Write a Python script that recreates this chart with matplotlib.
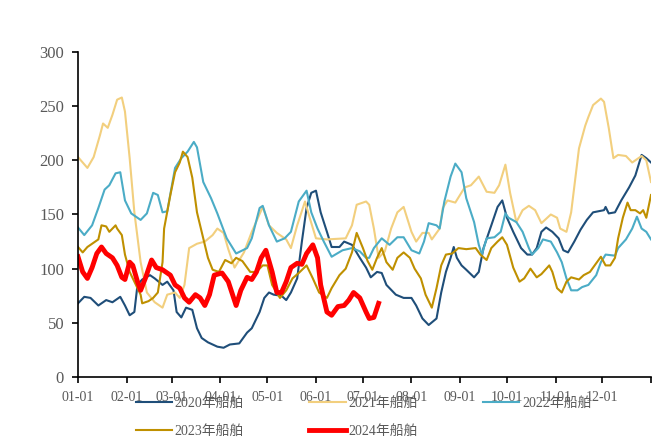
import numpy as np
import matplotlib.pyplot as plt

plt.rcParams['font.family'] = ['Liberation Serif', 'Noto Sans CJK SC']

# day of year -> value
d2020 = [0, 4, 8, 13, 18, 22, 27, 30, 33, 36, 38, 41, 46, 49, 54, 57, 61, 63, 66, 69, 73, 76, 79, 83, 89, 93,
         97, 103, 108, 111, 116, 119, 122, 125, 130, 133, 136, 140, 143, 146, 149, 152, 155, 159, 162, 167, 170,
         175, 180, 184, 187, 191, 194, 197, 203, 208, 213, 216, 220, 224, 229, 232, 235, 238, 240, 242, 245, 248,
         253, 256, 259, 264, 268, 271, 274, 278, 283, 287, 290, 293, 296, 299, 303, 307, 310, 313, 317, 321, 325,
         329, 336, 337, 339, 343, 347, 352, 356, 360, 363, 366]
v2020 = [68, 74, 73, 66, 71, 69, 74, 66, 57, 60, 85, 90, 94, 91, 85, 88, 80, 60, 55, 64, 62, 45, 36, 32, 28, 27,
         30, 31, 41, 45, 60, 73, 78, 76, 75, 71, 78, 91, 125, 156, 170, 172, 152, 134, 120, 120, 125,
         122, 110, 101, 92, 97, 96, 85, 76, 73, 73, 66, 54, 48, 54, 78, 97, 110, 120, 110, 103, 99,
         92, 97, 119, 140, 157, 163, 147, 134, 119, 113, 113, 119, 134, 138, 134, 128, 117, 115, 125, 136, 145,
         152, 154, 157, 151, 152, 163, 175, 186, 205, 202, 198]

d2021 = [0, 6, 10, 14, 16, 19, 22, 25, 28, 30, 33, 36, 40, 44, 49, 54, 57, 62, 65, 68, 71, 76, 81, 86, 89, 93,
         96, 100, 106, 111, 118, 122, 127, 133, 136, 140, 145, 148, 152, 159, 171, 175, 178, 184, 186, 189, 192,
         196, 200, 204, 208, 213, 216, 220, 224, 226, 231, 233, 236, 241, 247, 251, 256, 261, 266, 269, 273, 276,
         280, 284, 288, 292, 296, 302, 306, 308, 312, 315, 320, 324, 326, 329, 334, 336, 339, 342, 345, 350, 354,
         360, 363, 366]
v2021 = [203, 193, 203, 223, 234, 230, 242, 256, 258, 245, 202, 152, 106, 78, 69, 64, 76, 78, 73, 85, 119, 123,
         125, 131, 137, 133, 118, 101, 115, 134, 157, 140, 133, 127, 119, 140, 162, 147, 128, 127, 128, 140, 159,
         162, 159, 137, 110, 116, 137, 152, 157, 134, 125, 133, 133, 127, 137, 156, 163, 161, 175, 177, 185, 171,
         170, 177, 196, 170, 143, 154, 158, 154, 142, 150, 147, 137, 134, 152, 211, 232, 240, 251, 257, 254, 230,
         202, 205, 204, 198, 204, 200, 180]

d2022 = [0, 4, 9, 13, 17, 20, 24, 27, 30, 34, 40, 44, 48, 51, 54, 57, 62, 66, 70, 74, 76, 80, 85, 89, 95, 101,
         108, 111, 116, 118, 122, 127, 132, 136, 141, 146, 149, 153, 157, 162, 169, 175, 180, 184, 186, 189, 194,
         199, 204, 208, 213, 218, 221, 224, 229, 231, 234, 238, 241, 245, 248, 253, 256, 258, 261, 266, 270, 273,
         275, 280, 284, 288, 290, 294, 297, 302, 306, 309, 312, 315, 319, 322, 326, 331, 334, 337, 343, 345, 350,
         354, 357, 360, 363, 366]
v2022 = [138, 131, 140, 156, 173, 177, 188, 189, 163, 151, 145, 151, 170, 168, 152, 153, 193, 202, 208, 217, 212,
         180, 165, 151, 128, 114, 119, 128, 156, 158, 140, 125, 128, 134, 162, 172, 152, 137, 125, 111, 117, 119,
         116, 110, 110, 119, 128, 122, 129, 129, 117, 114, 125, 142, 140, 137, 162, 185, 197, 189, 165, 143, 122,
         113, 128, 129, 134, 151, 147, 143, 134, 119, 113, 119, 127, 125, 115, 106, 91, 80, 80, 83, 85, 94, 106,
         113, 112, 119, 127, 137, 148, 137, 134, 127]

d2023 = [0, 3, 6, 10, 13, 15, 18, 20, 24, 25, 28, 30, 33, 36, 40, 41, 45, 48, 51, 54, 55, 59, 62, 65, 67, 70,
         73, 76, 80, 83, 86, 90, 94, 98, 101, 105, 110, 114, 118, 121, 124, 129, 133, 137, 141, 146, 150, 154,
         159, 162, 167, 171, 175, 178, 182, 185, 188, 191, 194, 197, 201, 204, 208, 212, 215, 219, 222, 226, 229,
         232, 235, 239, 243, 248, 254, 257, 261, 264, 268, 271, 274, 278, 282, 285, 289, 293, 296, 301, 303, 306,
         309, 312, 315, 320, 323, 327, 331, 334, 337, 340, 343, 345, 348, 351, 353, 356, 359, 361, 363, 366]
v2023 = [120, 115, 120, 124, 127, 140, 139, 134, 140, 137, 131, 113, 97, 88, 76, 68, 70, 73, 78, 106, 137, 168,
         189, 198, 208, 203, 184, 152, 128, 110, 99, 97, 108, 105, 110, 107, 97, 97, 103, 103, 85, 73, 80, 91,
         96, 103, 91, 78, 73, 82, 94, 100, 115, 133, 119, 107, 99, 110, 119, 106, 99, 110, 115, 110, 100, 91,
         76, 64, 82, 103, 113, 114, 119, 118, 119, 113, 108, 119, 125, 129, 122, 101, 88, 91, 100, 92, 95, 103,
         97, 82, 78, 88, 92, 90, 94, 97, 105, 111, 103, 103, 110, 128, 147, 161, 154, 154, 151, 154, 147, 168]

d2024 = [0, 3, 6, 9, 12, 15, 18, 22, 25, 28, 30, 33, 35, 38, 40, 43, 47, 50, 54, 59, 62, 65, 68, 71, 75, 78,
         81, 84, 87, 92, 96, 101, 104, 108, 111, 114, 117, 120, 124, 127, 130, 133, 136, 140, 143, 146, 150, 153,
         155, 159, 162, 166, 170, 173, 176, 180, 184, 186, 189, 192]
v2024 = [111, 97, 91, 101, 114, 120, 114, 110, 103, 92, 90, 106, 103, 88, 80, 91, 108, 101, 99, 94, 85, 82, 73,
         69, 76, 73, 66, 76, 94, 96, 88, 66, 80, 92, 90, 97, 110, 117, 97, 78, 78, 88, 101, 105, 104, 114, 122,
         110, 85, 60, 57, 65, 66, 71, 78, 73, 60, 54, 55, 68]

month_days = [0, 31, 60, 91, 121, 152, 182, 213, 244, 274, 305, 335, 366]
month_labels = ["01-01", "02-01", "03-01", "04-01", "05-01", "06-01", "07-01", "08-01", "09-01", "10-01",
                "11-01", "12-01", ""]

grey = "#595959"

fig = plt.figure(figsize=(6.62, 4.47), dpi=100)
ax = fig.add_axes([78/662, 1-377/447, 573/662, 325/447])

l20, = ax.plot(d2020, v2020, c="#1F4E79", linewidth=1.5, label="2020年船舶")
l21, = ax.plot(d2021, v2021, c="#F2CF7E", linewidth=1.5, label="2021年船舶")
l22, = ax.plot(d2022, v2022, c="#4BACC6", linewidth=1.5, label="2022年船舶")
l23, = ax.plot(d2023, v2023, c="#BF9000", linewidth=1.5, label="2023年船舶")
l24, = ax.plot(d2024, v2024, c="#FF0000", linewidth=3.5, label="2024年船舶")

ax.set_xlim(0, 366)
ax.set_ylim(0, 300)
ax.set_yticks(np.arange(0, 301, 50))
ax.set_xticks(month_days)
ax.set_xticklabels(month_labels)
ax.tick_params(axis="y", labelsize=12, labelcolor=grey, length=4, width=1.2, pad=6)
ax.tick_params(axis="x", labelsize=10, labelcolor=grey, length=4, width=1.2, pad=6)
ax.spines["top"].set_visible(False)
ax.spines["right"].set_visible(False)
ax.spines["left"].set_linewidth(1.2)
ax.spines["bottom"].set_linewidth(1.2)

# legend fills column-wise, so order handles to read row by row
handles = [l20, l23, l21, l24, l22]
leg = fig.legend(handles, [h.get_label() for h in handles], loc="upper left",
                 bbox_to_anchor=(129/662, 1-390/447), ncol=3, frameon=False,
                 fontsize=10, handlelength=2.6, handletextpad=0.2, columnspacing=4.7,
                 labelspacing=1.1, borderpad=0)
for t in leg.get_texts():
    t.set_color(grey)

plt.savefig("out.png", dpi=100)
